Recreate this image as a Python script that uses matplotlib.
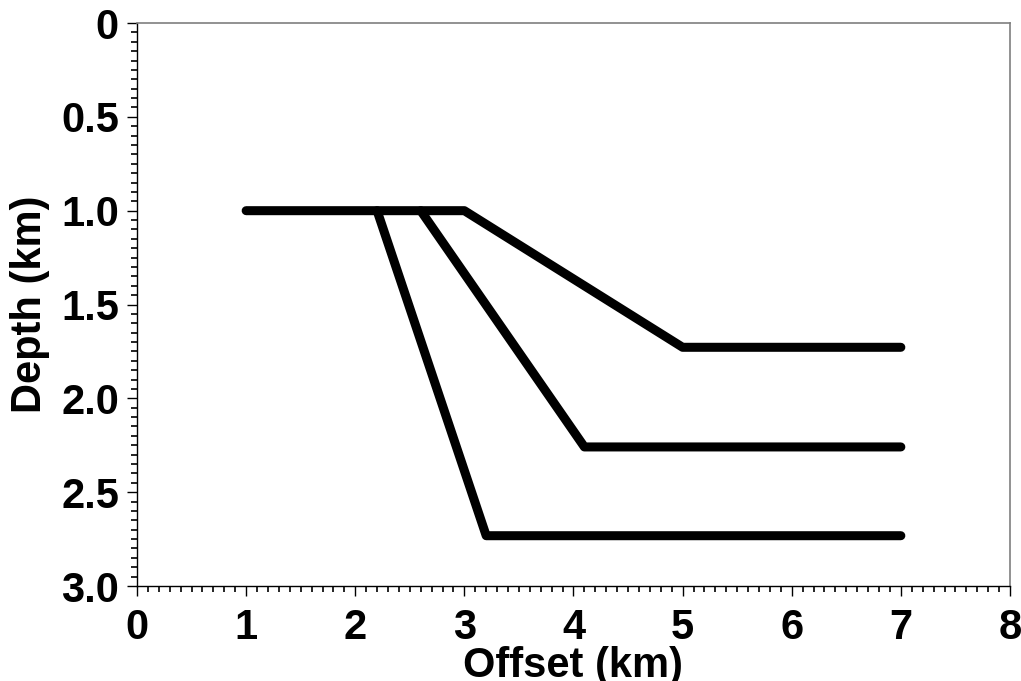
import matplotlib
matplotlib.use("Agg")
import matplotlib.pyplot as plt
from matplotlib.ticker import MultipleLocator

# Fault-horizon profiles: offset (km) vs depth (km)
horizon_a_x = [1.0, 3.0, 5.0, 7.0]
horizon_a_z = [1.0, 1.0, 1.728, 1.728]

horizon_b_x = [2.6, 4.1, 7.0]
horizon_b_z = [1.0, 2.259, 2.259]

horizon_c_x = [2.2, 3.2, 7.0]
horizon_c_z = [1.0, 2.732, 2.732]

x_ticks = [0, 1, 2, 3, 4, 5, 6, 7, 8]
y_ticks = [0.0, 0.5, 1.0, 1.5, 2.0, 2.5, 3.0]
y_tick_labels = ["0", "0.5", "1.0", "1.5", "2.0", "2.5", "3.0"]

plt.rcParams["font.family"] = ["Liberation Sans", "DejaVu Sans"]
plt.rcParams["font.weight"] = "bold"

fig = plt.figure(figsize=(10.21, 6.81), dpi=100)
ax = fig.add_axes([0.1342, 0.1395, 0.8550, 0.8267])

line_kw = dict(color="black", linewidth=6.5, solid_capstyle="round",
               solid_joinstyle="round")
for xs, zs in [(horizon_a_x, horizon_a_z), (horizon_b_x, horizon_b_z),
               (horizon_c_x, horizon_c_z)]:
    ax.plot(xs, zs, **line_kw)

ax.set_xlim(0, 8)
ax.set_ylim(3.0, 0.0)

ax.set_xticks(x_ticks)
ax.set_xticklabels([str(t) for t in x_ticks])
ax.set_yticks(y_ticks)
ax.set_yticklabels(y_tick_labels)
ax.xaxis.set_minor_locator(MultipleLocator(0.1))
ax.yaxis.set_minor_locator(MultipleLocator(0.05))

ax.tick_params(which="major", direction="out", length=7, width=1.0,
               labelsize=30, color="black")
ax.tick_params(which="minor", direction="out", length=4, width=1.2,
               color="black")
ax.tick_params(axis="x", which="major", pad=9)
ax.tick_params(axis="y", which="major", pad=6)
for lbl in ax.get_xticklabels() + ax.get_yticklabels():
    lbl.set_fontweight("bold")

for side in ("left", "bottom"):
    ax.spines[side].set_color("black")
    ax.spines[side].set_linewidth(1.0)
for side in ("top", "right"):
    ax.spines[side].set_color("#7f7f7f")
    ax.spines[side].set_linewidth(1.2)

ax.set_xlabel("Offset (km)", fontsize=30, fontweight="bold")
ax.set_ylabel("Depth (km)", fontsize=30, fontweight="bold")
ax.xaxis.set_label_coords(0.5, -0.107)
ax.yaxis.set_label_coords(-0.1226, 0.5)
ax.yaxis.label.set_va("center")

fig.savefig("out.png", dpi=100)
